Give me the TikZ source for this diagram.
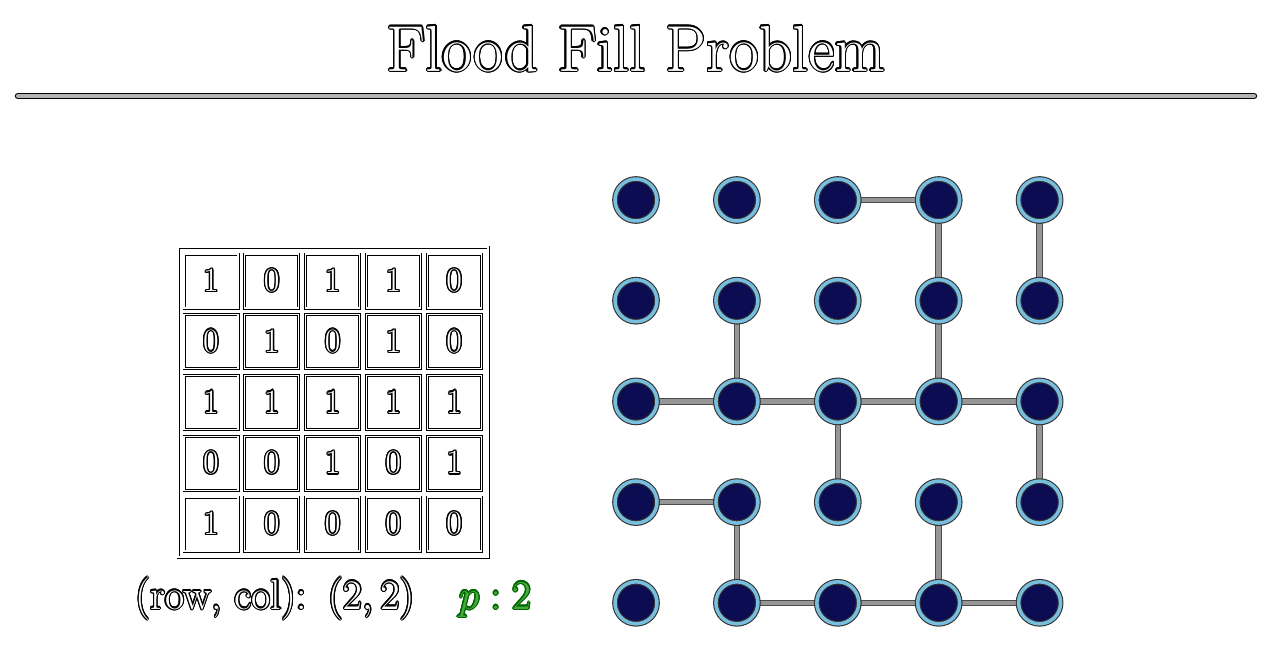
\RequirePackage{fix-cm}
\documentclass[tikz,border=0pt]{standalone}
\usepackage{contour}
\usetikzlibrary{backgrounds}
\contourlength{1.3pt}
\definecolor{navy}{RGB}{12, 12, 82}
\definecolor{ringblue}{RGB}{120, 190, 222}
\definecolor{edgegray}{RGB}{150, 150, 150}
\definecolor{pgreen}{RGB}{70, 170, 60}
\tikzset{
  cell/.style={draw=black, double=white, double distance=1.2pt, line width=0.9pt,
    minimum size=54pt, inner sep=0pt, text=white, font=\fontsize{34}{36}\selectfont},
  dot/.style={circle, fill=navy, draw=black!80, double=ringblue, double distance=3.5pt,
    line width=1.1pt, minimum size=42pt, inner sep=0pt},
  link/.style={draw=black!70, double=edgegray, double distance=4.5pt, line width=1pt},
}
\begin{document}
\begin{tikzpicture}[x=1pt,y=1pt,yscale=-1]
\useasboundingbox (0,0) rectangle (1272,662);

% --- TITLE ---
\node[anchor=base, text=white, font=\fontsize{65}{70}\selectfont] (title) at (636,71)
  {\contour{black}{Flood Fill Problem}};
\draw[draw=black, double=black!30, double distance=4pt, line width=1.2pt, line cap=round]
  (18,96) -- (1254,96);

% --- MATRIX (left) ---
\node[draw=black, double=white, double distance=1.2pt, line width=0.9pt, minimum size=310pt]
  (board) at (333,402) {};
\foreach \r/\vals in {0/{1,0,1,1,0}, 1/{0,1,0,1,0}, 2/{1,1,1,1,1}, 3/{0,0,1,0,1}, 4/{1,0,0,0,0}}
  \foreach \v [count=\c from 0] in \vals
    \node[cell] (m-\r-\c) at (211+60.8*\c, 281+60.75*\r) {\contour{black}{\v}};

\node[anchor=base, text=white, font=\fontsize{42}{46}\selectfont] (pos) at (275,609)
  {\contour{black}{(row, col):\enspace$(2,2)$}};
\node[anchor=base, text=pgreen, font=\fontsize{41}{46}\selectfont] (pval) at (495,609)
  {\contour{black!60!green}{$p:2$}};

% --- GRAPH (right) ---
\foreach \r in {0,...,4}
  \foreach \c in {0,...,4}
    \node[dot] (n-\r-\c) at (636+100.9*\c, 200+100.7*\r) {};

\begin{pgfonlayer}{background}
\foreach \a/\b in {0-2/0-3, 0-3/1-3, 0-4/1-4, 1-1/2-1, 1-3/2-3,
    2-0/2-1, 2-1/2-2, 2-2/2-3, 2-3/2-4, 2-2/3-2, 2-4/3-4,
    3-0/3-1, 3-1/4-1, 3-3/4-3, 4-1/4-2, 4-2/4-3, 4-3/4-4}
  \draw[link] (n-\a.center) -- (n-\b.center);
\end{pgfonlayer}

\end{tikzpicture}
\end{document}
